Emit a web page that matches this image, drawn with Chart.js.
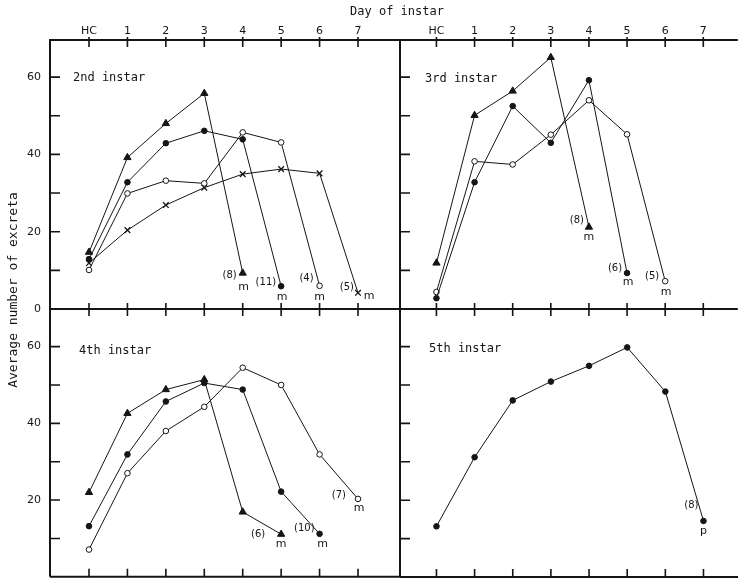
<!DOCTYPE html>
<html>
<head>
<meta charset="utf-8">
<script src="https://cdn.jsdelivr.net/npm/chart.js@4.4.0/dist/chart.umd.min.js"></script>
<style>
  body { margin: 0; background: #fff; }
  #wrap { position: relative; width: 743px; height: 582px; }
  canvas { position: absolute; left: 0; top: 0; }
</style>
</head>
<body>
<div id="wrap">
  <canvas id="p2" width="743" height="582"></canvas>
  <canvas id="p3" width="743" height="582"></canvas>
  <canvas id="p4" width="743" height="582"></canvas>
  <canvas id="p5" width="743" height="582"></canvas>
</div>
<script>
// Day labels along the top axis
const days = ['HC', '1', '2', '3', '4', '5', '6', '7'];
const yTicks = [10, 20, 30, 40, 50, 60];
const yLabels = [20, 40, 60];

// 2nd instar (series start at HC)
const i2Tri   = [14.7, 39.2, 48.0, 55.8, 9.3];
const i2Dot   = [12.9, 32.8, 42.9, 46.1, 43.9, 5.9];
const i2Ring  = [10.1, 29.9, 33.2, 32.5, 45.7, 43.1, 6.0];
const i2Cross = [11.9, 20.4, 26.9, 31.4, 34.9, 36.2, 35.1, 4.2];
const i2Counts = ['(8)', '(11)', '(4)', '(5)'];
const i2Marks  = ['m', 'm', 'm', 'm'];

// 3rd instar
const i3Tri  = [11.9, 50.1, 56.4, 65.1, 21.2];
const i3Dot  = [2.8, 32.8, 52.5, 43.0, 59.2, 9.3];
const i3Ring = [4.4, 38.2, 37.4, 45.1, 54.0, 45.2, 7.2];
const i3Counts = ['(8)', '(6)', '(5)'];
const i3Marks  = ['m', 'm', 'm'];

// 4th instar
const i4Tri  = [22.0, 42.6, 48.8, 51.4, 16.9, 11.1];
const i4Dot  = [13.2, 31.9, 45.7, 50.5, 48.8, 22.2, 11.2];
const i4Ring = [7.1, 27.0, 38.0, 44.3, 54.5, 50.0, 31.9, 20.3];
const i4Counts = ['(6)', '(10)', '(7)'];
const i4Marks  = ['m', 'm', 'm'];

// 5th instar
const i5Dot = [13.2, 31.2, 46.0, 50.9, 55.0, 59.8, 48.3, 14.6];
const i5Counts = ['(8)'];
const i5Marks  = ['p'];

const ink = '#151515';

// marker looks
const styles = {
  tri:   { pointStyle: 'triangle', pointRadius: 4.2, pointBackgroundColor: ink, pointBorderWidth: 1 },
  dot:   { pointStyle: 'circle', pointRadius: 2.8, pointBackgroundColor: ink, pointBorderWidth: 1 },
  ring:  { pointStyle: 'circle', pointRadius: 2.8, pointBackgroundColor: '#fff', pointBorderWidth: 1 },
  cross: { pointStyle: 'crossRot', pointRadius: 4, pointBackgroundColor: ink, pointBorderWidth: 1.3 }
};

function toPoints(values) {
  return values.map((v, i) => ({ x: i, y: v }));
}

function makeDataset(values, kind) {
  return Object.assign({
    data: toPoints(values),
    borderColor: ink,
    borderWidth: 1,
    pointBorderColor: ink,
    tension: 0,
    clip: false
  }, styles[kind]);
}

// draws frame, ticks, tick labels, panel title and end notes
function decoPlugin(cfg) {
  return {
    id: 'deco',
    afterDraw(chart) {
      const ctx = chart.ctx;
      const a = chart.chartArea;
      const xs = chart.scales.x;
      const ys = chart.scales.y;
      ctx.save();
      ctx.strokeStyle = ink;
      ctx.fillStyle = ink;

      // frame
      ctx.lineWidth = 2;
      ctx.beginPath();
      ctx.moveTo(a.left, a.top);
      ctx.lineTo(a.left, a.bottom);
      if (cfg.top) {
        ctx.moveTo(a.left - 1, a.top);
        ctx.lineTo(a.right, a.top);
      }
      ctx.moveTo(a.left, a.bottom);
      ctx.lineTo(a.right, a.bottom);
      ctx.stroke();

      // x ticks
      ctx.lineWidth = 1.6;
      ctx.beginPath();
      days.forEach((d, i) => {
        const x = xs.getPixelForValue(i);
        if (cfg.top) {
          ctx.moveTo(x, a.top - 3); ctx.lineTo(x, a.top + 7);
          ctx.moveTo(x, a.bottom - 6); ctx.lineTo(x, a.bottom + 7);
        } else {
          ctx.moveTo(x, a.bottom - 8); ctx.lineTo(x, a.bottom);
        }
      });
      // y ticks, pointing inward
      yTicks.forEach(v => {
        const y = ys.getPixelForValue(v);
        ctx.moveTo(a.left, y); ctx.lineTo(a.left + 10, y);
      });
      ctx.stroke();

      // top tick labels
      ctx.font = '11px "DejaVu Sans"';
      ctx.textBaseline = 'middle';
      if (cfg.top) {
        ctx.textAlign = 'center';
        days.forEach((d, i) => ctx.fillText(d, xs.getPixelForValue(i), a.top - 9));
      }
      // y labels
      if (cfg.left) {
        ctx.textAlign = 'right';
        yLabels.forEach(v => ctx.fillText(String(v), a.left - 9, ys.getPixelForValue(v)));
        if (cfg.top) ctx.fillText('0', a.left - 9, ys.getPixelForValue(0));
      }

      // panel title
      ctx.font = '12px "DejaVu Sans Mono"';
      ctx.textAlign = 'left';
      ctx.fillText(cfg.title, cfg.titleAt[0], cfg.titleAt[1]);

      // end notes: sample size and stage reached
      chart.data.datasets.forEach((ds, k) => {
        const last = ds.data[ds.data.length - 1];
        const px = xs.getPixelForValue(last.x);
        const py = ys.getPixelForValue(last.y);
        const o = cfg.noteAt[k];
        ctx.font = '10px "DejaVu Sans"';
        ctx.textAlign = 'right';
        ctx.fillText(cfg.counts[k], px + o[0], py + o[1]);
        ctx.font = '11px "DejaVu Sans"';
        ctx.textAlign = 'center';
        ctx.fillText(cfg.marks[k], px + o[2], py + o[3]);
      });

      // figure-level titles
      if (cfg.captions) {
        ctx.font = '12px "DejaVu Sans Mono"';
        ctx.textAlign = 'center';
        ctx.fillText('Day of instar', 397, 12);
        ctx.save();
        ctx.translate(14, 290);
        ctx.rotate(-Math.PI / 2);
        ctx.font = '13px "DejaVu Sans Mono"';
        ctx.fillText('Average number of excreta', 0, 0);
        ctx.restore();
      }
      ctx.restore();
    }
  };
}

function makePanel(id, datasets, cfg) {
  return new Chart(document.getElementById(id), {
    type: 'line',
    data: { datasets: datasets },
    options: {
      responsive: false,
      animation: false,
      events: [],
      layout: { padding: cfg.pad },
      plugins: { legend: { display: false }, tooltip: { enabled: false } },
      scales: {
        x: { type: 'linear', min: cfg.xRange[0], max: cfg.xRange[1], display: false },
        y: { type: 'linear', min: 0, max: cfg.yMax, display: false }
      }
    },
    plugins: [decoPlugin(cfg)]
  });
}

const leftX = [-1.015, 8.093];
const rightX = [-0.956, 7.905];

makePanel('p2', [
  makeDataset(i2Tri, 'tri'),
  makeDataset(i2Dot, 'dot'),
  makeDataset(i2Ring, 'ring'),
  makeDataset(i2Cross, 'cross')
], {
  title: '2nd instar', titleAt: [73, 78], top: true, left: true, captions: true,
  pad: { left: 50, top: 40, right: 343, bottom: 273 }, xRange: leftX, yMax: 69.6,
  counts: i2Counts, marks: i2Marks,
  noteAt: [[-6, 2, 1, 14], [-5, -4, 1, 11], [-6, -7, 0, 11], [-4, -5, 11, 3]]
});

makePanel('p3', [
  makeDataset(i3Tri, 'tri'),
  makeDataset(i3Dot, 'dot'),
  makeDataset(i3Ring, 'ring')
], {
  title: '3rd instar', titleAt: [425, 79], top: true, left: false,
  pad: { left: 400, top: 40, right: 0, bottom: 273 }, xRange: rightX, yMax: 69.6,
  counts: i3Counts, marks: i3Marks,
  noteAt: [[-5, -7, 0, 10], [-5, -5, 1, 9], [-6, -5, 1, 11]]
});

makePanel('p4', [
  makeDataset(i4Tri, 'tri'),
  makeDataset(i4Dot, 'dot'),
  makeDataset(i4Ring, 'ring')
], {
  title: '4th instar', titleAt: [79, 351], top: false, left: true,
  pad: { left: 50, top: 309, right: 343, bottom: 2 }, xRange: leftX, yMax: 69.8,
  counts: i4Counts, marks: i4Marks,
  noteAt: [[-16, 0, 0, 10], [-5, -5, 3, 10], [-12, -4, 1, 9]]
});

makePanel('p5', [
  makeDataset(i5Dot, 'dot')
], {
  title: '5th instar', titleAt: [429, 349], top: false, left: false,
  pad: { left: 400, top: 309, right: 0, bottom: 2 }, xRange: rightX, yMax: 69.8,
  counts: i5Counts, marks: i5Marks,
  noteAt: [[-5, -16, 0, 10]]
});
</script>
</body>
</html>
